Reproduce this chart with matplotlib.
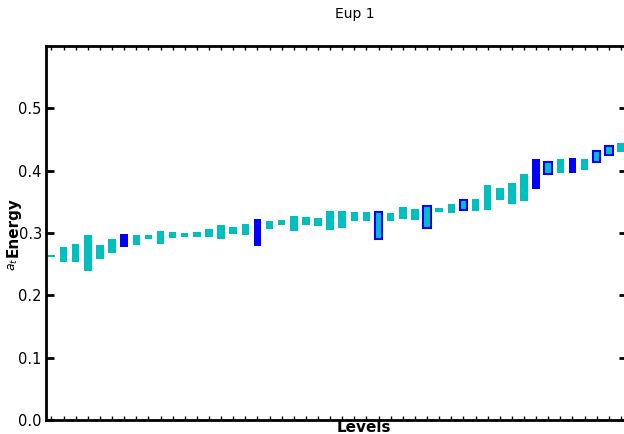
import numpy as np
import matplotlib.pyplot as plt

# level index and energy range (bottom, top) of each box
levels = np.arange(48)
bottoms = [0.262, 0.254, 0.253, 0.239, 0.258, 0.268, 0.278, 0.280, 0.291, 0.282,
           0.292, 0.293, 0.293, 0.294, 0.291, 0.298, 0.296, 0.279, 0.307, 0.313,
           0.304, 0.313, 0.312, 0.305, 0.308, 0.320, 0.320, 0.291, 0.320, 0.323,
           0.321, 0.308, 0.334, 0.332, 0.337, 0.335, 0.337, 0.353, 0.346, 0.351,
           0.370, 0.395, 0.397, 0.397, 0.401, 0.414, 0.425, 0.430]
tops = [0.264, 0.277, 0.282, 0.296, 0.280, 0.290, 0.298, 0.296, 0.297, 0.304,
        0.301, 0.300, 0.301, 0.306, 0.313, 0.310, 0.315, 0.323, 0.320, 0.321,
        0.328, 0.326, 0.324, 0.335, 0.336, 0.334, 0.334, 0.333, 0.332, 0.342,
        0.339, 0.343, 0.340, 0.346, 0.353, 0.355, 0.377, 0.372, 0.381, 0.394,
        0.419, 0.414, 0.419, 0.420, 0.418, 0.432, 0.440, 0.444]
# 'c' plain, 'b' filled blue, 'o' cyan with blue outline
kinds = list('cccccc' 'bccccccccccb' 'ccccccccc' 'occc' 'occ' 'occccc' 'bocbcooc')

fig = plt.figure(figsize=(6.24, 4.34), dpi=100)
ax = fig.add_axes([46/624, 14/434, 581/624, 374/434])

heights = np.array(tops) - np.array(bottoms)
for x, b, h, k in zip(levels, bottoms, heights, kinds):
    if k == 'b':
        ax.bar(x, h, bottom=b, width=0.62, color='b', edgecolor='none')
    elif k == 'o':
        ax.bar(x, h, bottom=b, width=0.62, color='c', edgecolor='b', linewidth=1.5)
    else:
        ax.bar(x, h, bottom=b, width=0.62, color='c', edgecolor='none')

ax.set_xlim(-0.45, 47.5)
ax.set_ylim(0, 0.6)
ax.set_yticks([0.0, 0.1, 0.2, 0.3, 0.4, 0.5])
ax.set_xticks(levels)
ax.set_xticklabels([])
ax.tick_params(axis='y', direction='in', length=6, width=2, right=True, labelsize=10.5, pad=3)
ax.tick_params(axis='x', direction='in', length=3, width=1, top=True)
for s in ax.spines.values():
    s.set_linewidth(2)

fig.text(355/624, 1 - 14/434, 'Eup 1', ha='center', va='center', fontsize=10)
fig.text(364/624, 1 - 428/434, 'Levels', ha='center', va='center', fontsize=11, fontweight='bold')
# y label: small math a_t followed by bold "Energy"
fig.text(13/624, 1 - 258/434, r'$a_t$', ha='center', va='top', rotation=90, fontsize=9)
fig.text(13/624, 1 - 257/434, 'Energy', ha='center', va='bottom', rotation=90,
         fontsize=11, fontweight='bold')

fig.savefig('out.png', dpi=100)
